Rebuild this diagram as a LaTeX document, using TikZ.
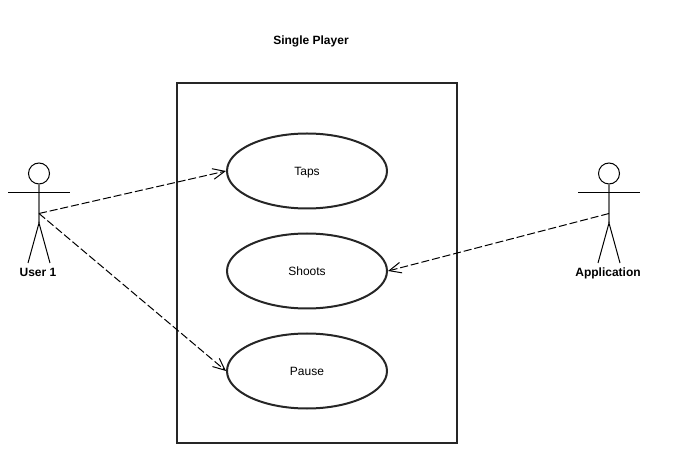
\documentclass[tikz,border=0pt]{standalone}
\usepackage{fontspec}
\setmainfont{Liberation Sans}
\usetikzlibrary{arrows.meta,shapes.geometric}
\tikzset{
  px/.style={x=0.75pt,y=-0.75pt},
  usecase/.style={draw=black!85,line width=1.5pt,ellipse,minimum width=120pt,minimum height=56.25pt,inner sep=0pt,text height=6.5pt,text depth=0pt,font=\fontsize{9}{11}\selectfont},
  sysbox/.style={draw=black!85,line width=1.5pt,minimum width=210pt,minimum height=270pt,inner sep=0pt},
  lbl/.style={font=\fontsize{9}{11}\selectfont\bfseries,inner sep=0pt,text height=7pt,text depth=0pt},
  limb/.style={draw=black,line width=0.75pt},
  trunk/.style={draw=black!55,line width=1.2pt},
  head/.style={draw=black,circle,line width=0.75pt,minimum size=15.75pt,inner sep=0pt},
  dep/.style={draw=black,line width=0.75pt,dash pattern=on 6pt off 2.2pt,-{Straight Barb[length=9pt,width=8pt,line width=0.75pt]}}
}
\begin{document}
\begin{tikzpicture}[px]
\useasboundingbox (0,0) rectangle (677,473);
\node[sysbox] (sys) at (317,263) {};
\node[lbl] (title) at (311,40) {Single Player};
\node[usecase] (taps) at (307,171) {Taps};
\node[usecase] (shoots) at (307,271) {Shoots};
\node[usecase] (pause) at (307,371) {Pause};
% actor left
\node[head] (h1) at (39,173.5) {};
\coordinate (u1) at (39,213.5);
\coordinate (c1) at (39,223);
\coordinate (a1l) at (8,193);
\coordinate (a1r) at (70,193);
\coordinate (f1l) at (28,263);
\coordinate (f1r) at (50,263);
\draw[trunk] (h1) -- (c1);
\draw[limb] (a1l) -- (a1r);
\draw[limb] (f1l) -- (c1) -- (f1r);
\node[lbl] (l1) at (38,272) {User 1};
% actor right
\node[head] (h2) at (609,173.5) {};
\coordinate (u2) at (609,213.5);
\coordinate (c2) at (609,223);
\coordinate (a2l) at (578,193);
\coordinate (a2r) at (640,193);
\coordinate (f2l) at (598,263);
\coordinate (f2r) at (620,263);
\draw[trunk] (h2) -- (c2);
\draw[limb] (a2l) -- (a2r);
\draw[limb] (f2l) -- (c2) -- (f2r);
\node[lbl] (l2) at (608,272) {Application};
\draw[dep] (u1) -- (taps.west);
\draw[dep] (u1) -- (pause.west);
\draw[dep] (u2) -- (shoots.east);
\end{tikzpicture}
\end{document}
